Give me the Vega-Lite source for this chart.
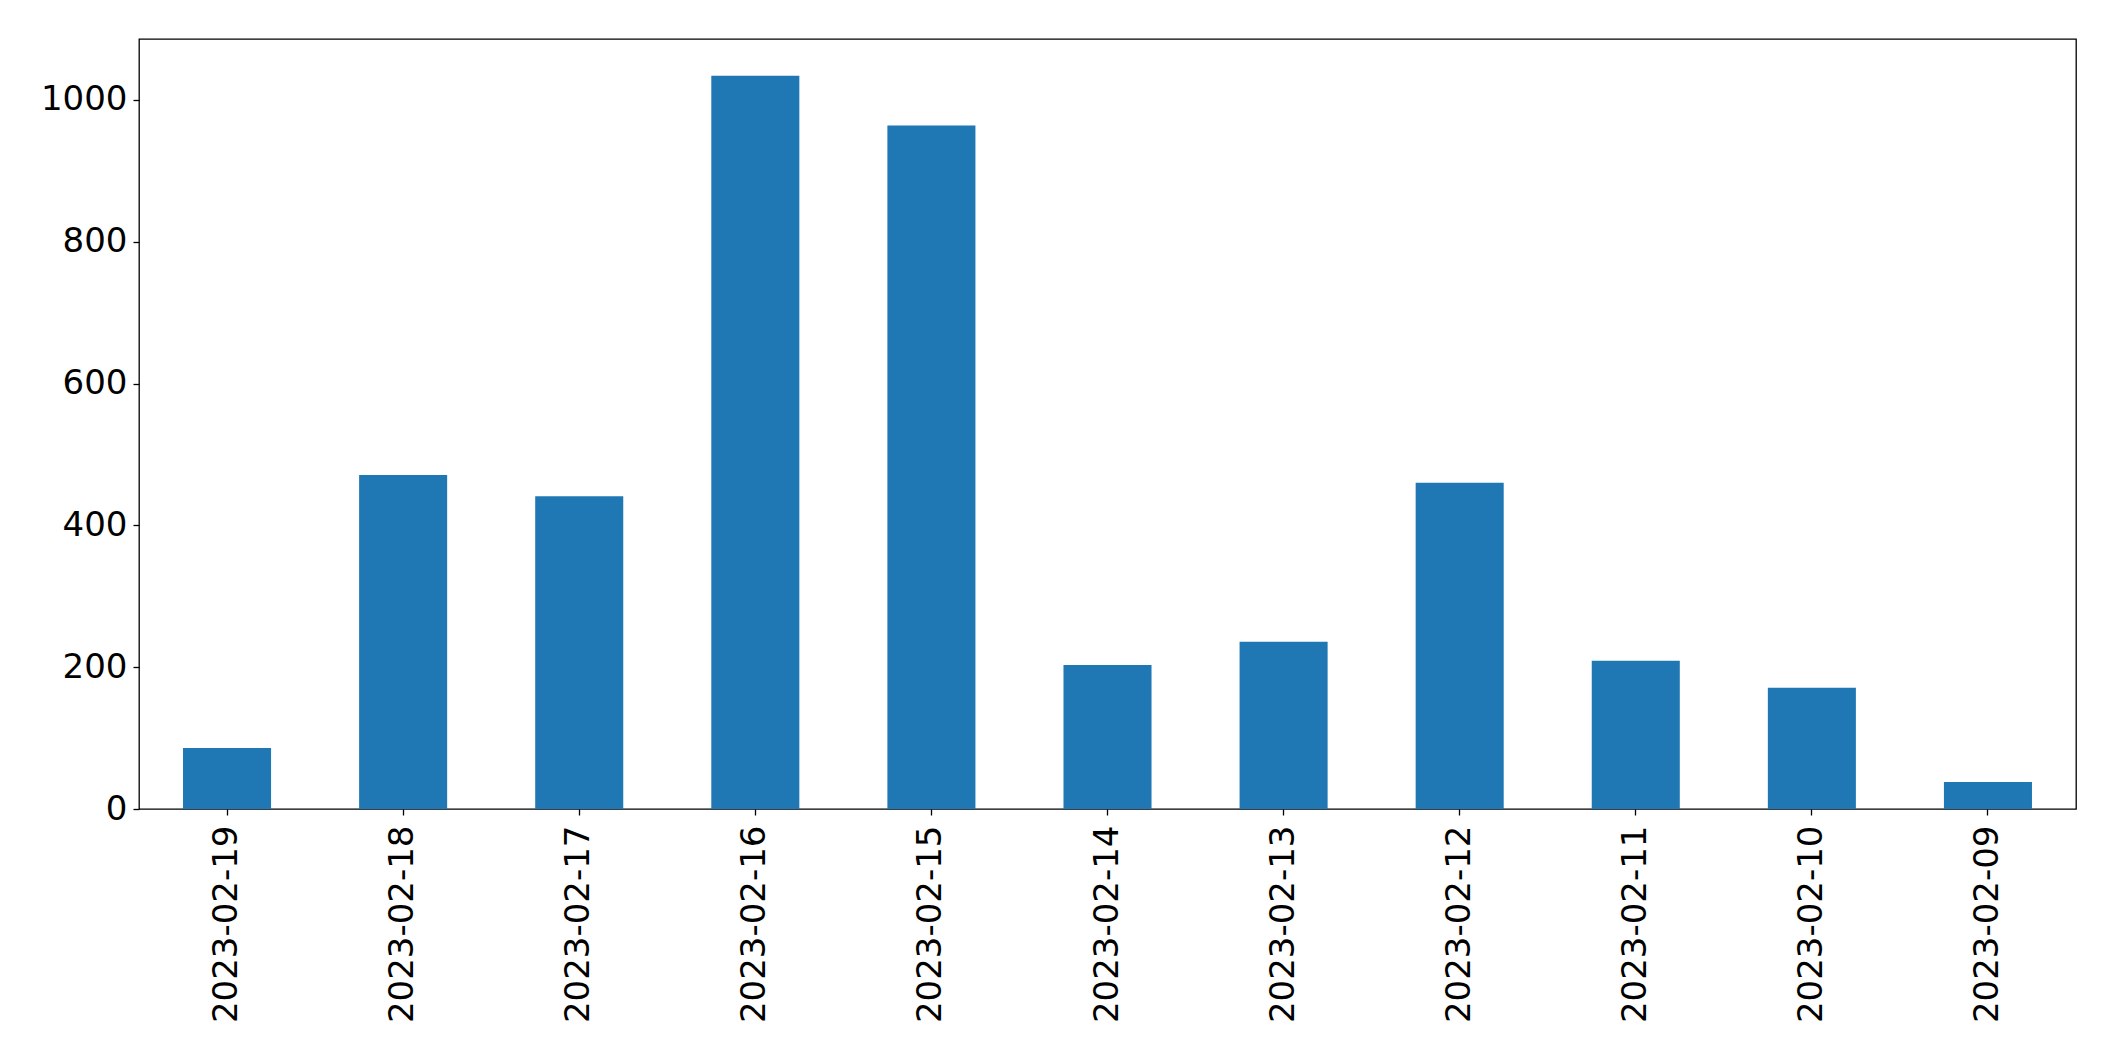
{
  "$schema": "https://vega.github.io/schema/vega-lite/v6.json",
  "width": 1937,
  "height": 770,
  "autosize": {"type": "none"},
  "padding": {"left": 139, "top": 39, "right": 39, "bottom": 252},
  "background": "white",
  "config": {
    "font": "DejaVu Sans",
    "view": {"stroke": "black", "strokeWidth": 1.3},
    "axis": {"grid": false, "domain": false, "tickColor": "black", "labelColor": "black", "labelFont": "DejaVu Sans", "labelFontSize": 34, "labelLimit": 0, "tickSize": 6, "tickWidth": 1.3}
  },
  "data": {
    "values": [
      {"date": "2023-02-19", "count": 86},
      {"date": "2023-02-18", "count": 471},
      {"date": "2023-02-17", "count": 441},
      {"date": "2023-02-16", "count": 1034},
      {"date": "2023-02-15", "count": 964},
      {"date": "2023-02-14", "count": 203},
      {"date": "2023-02-13", "count": 236},
      {"date": "2023-02-12", "count": 460},
      {"date": "2023-02-11", "count": 209},
      {"date": "2023-02-10", "count": 171},
      {"date": "2023-02-09", "count": 38}
    ]
  },
  "mark": {"type": "bar", "color": "#1f77b4"},
  "encoding": {
    "x": {
      "field": "date", "type": "nominal", "sort": null, "title": null,
      "scale": {"paddingInner": 0.5, "paddingOuter": 0.25},
      "axis": {"labelAngle": -90, "labelPadding": 10}
    },
    "y": {
      "field": "count", "type": "quantitative", "title": null,
      "scale": {"domain": [0, 1086], "nice": false, "zero": true},
      "axis": {"values": [0, 200, 400, 600, 800, 1000], "format": "d", "labelPadding": 6}
    }
  }
}
